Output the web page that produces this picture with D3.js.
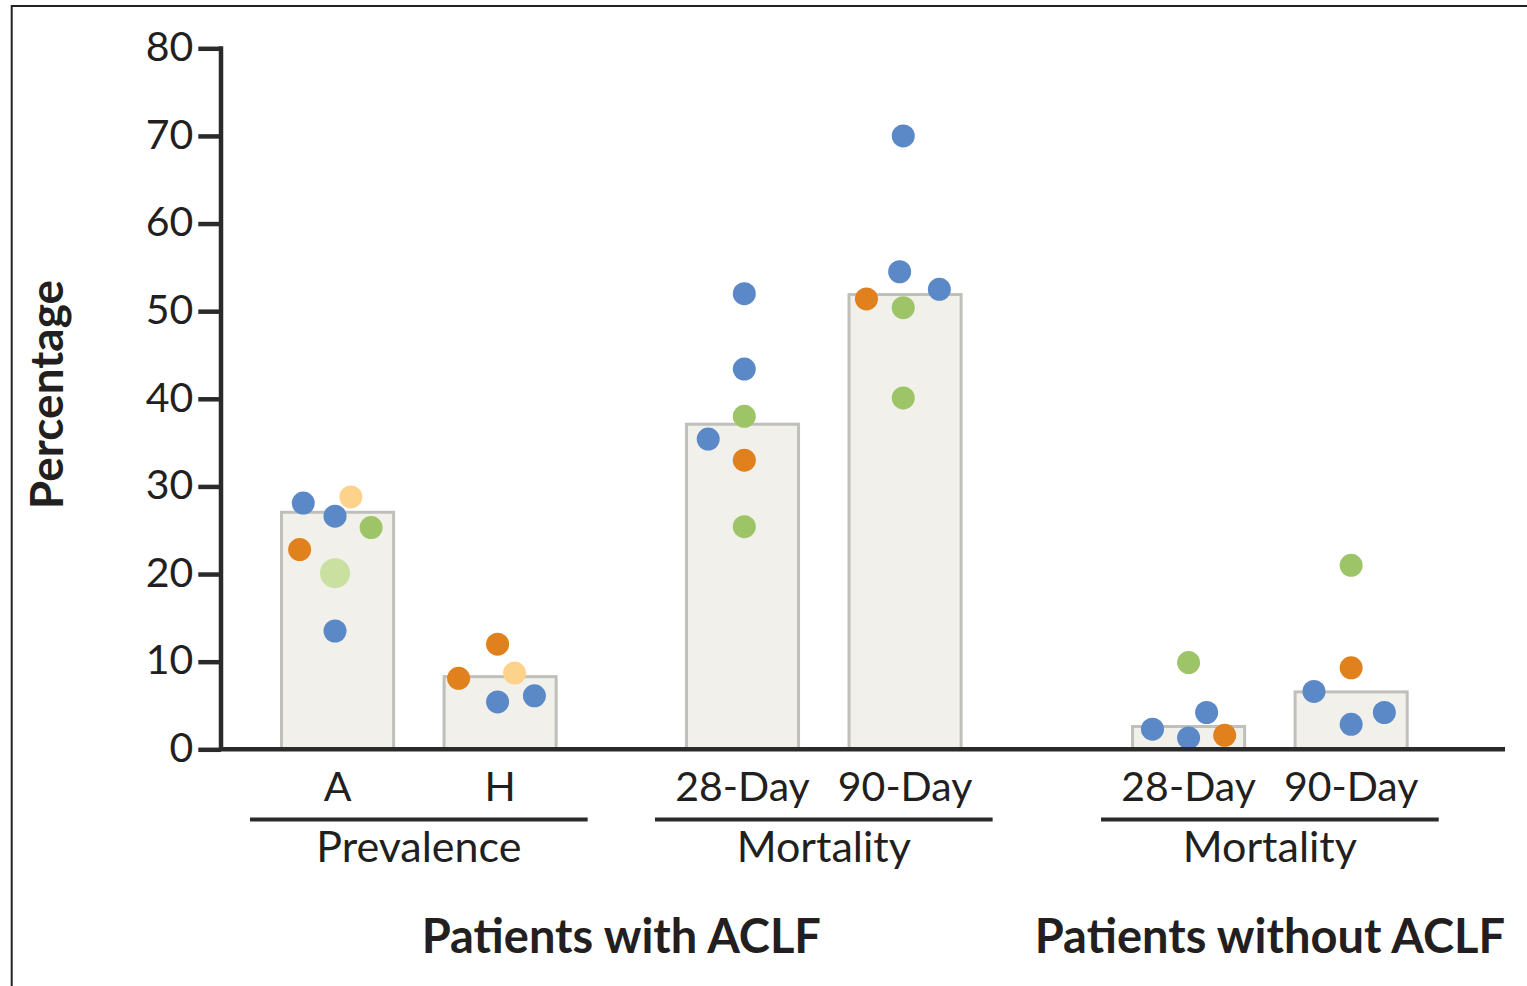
<!DOCTYPE html>
<html>
<head>
<meta charset="utf-8">
<script src="https://cdn.jsdelivr.net/npm/d3@7"></script>
<style>
  html, body { margin: 0; padding: 0; background: #fff; }
  svg { display: block; }
  text { font-family: Lato, "Open Sans", sans-serif; fill: #231f20; }
</style>
</head>
<body>
<svg id="chart" width="1527" height="986"></svg>
<script>
// ---------- data ----------
const categoryIds    = ["prevA", "prevH", "mort28", "mort90", "nmort28", "nmort90"];
const categoryLabels = ["A", "H", "28-Day", "90-Day", "28-Day", "90-Day"];
const categoryGroup  = [0, 0, 1, 1, 2, 2];
const groupLabels    = ["Prevalence", "Mortality", "Mortality"];
const groupPatient   = [0, 0, 1];   // patient-group index of each group
const patientLabels  = ["Patients with ACLF", "Patients without ACLF"];
const barValues      = [27.05, 8.29, 37.1, 51.9, 2.6, 6.55];
const yTicks         = [0, 10, 20, 30, 40, 50, 60, 70, 80];

// individual study points
const pointCategory = [
  "prevA","prevA","prevA","prevA","prevA","prevA","prevA",
  "prevH","prevH","prevH","prevH","prevH",
  "mort28","mort28","mort28","mort28","mort28","mort28",
  "mort90","mort90","mort90","mort90","mort90","mort90",
  "nmort28","nmort28","nmort28","nmort28","nmort28",
  "nmort90","nmort90","nmort90","nmort90","nmort90"
];
const pointValue = [
  28.1, 26.6, 28.8, 25.3, 22.8, 20.1, 13.5,
  8.1, 12.0, 8.7, 5.4, 6.1,
  52.0, 43.4, 38.0, 35.4, 33.0, 25.4,
  70.0, 54.5, 52.5, 51.4, 50.4, 40.1,
  9.9, 4.2, 2.3, 1.3, 1.6,
  21.0, 9.3, 6.6, 2.85, 4.2
];
const pointSeries = [
  "blue","blue","lightOrange","green","orange","lightGreen","blue",
  "orange","orange","lightOrange","blue","blue",
  "blue","blue","green","blue","orange","green",
  "blue","blue","blue","orange","green","green",
  "green","blue","blue","blue","orange",
  "green","orange","blue","blue","blue"
];
// horizontal slot of each point beside its bar centre (-1 left, 0 centre, 1 right)
const pointSlot = [
  -0.95, -0.07, 0.37, 0.93, -1.05, -0.07, -0.07,
  -1.15, -0.07, 0.4, -0.07, 0.95,
  0.05, 0.05, 0.05, -0.95, 0.05, 0.05,
  -0.05, -0.15, 0.95, -1.07, -0.05, -0.05,
  0, 0.5, -1, 0, 1,
  0, 0, -1.03, 0, 0.92
];

// ---------- styles ----------
const seriesColor = {
  blue: "#5b88c6", orange: "#e0811d", green: "#9dc467",
  lightOrange: "#fdd38b", lightGreen: "#c9e0a0"
};
const seriesRadius = { lightGreen: 15 };
const defaultRadius = 11.5;

// ---------- layout ----------
const svg = d3.select("#chart");
const groupGap = 0.491;     // extra space between groups (in bar steps)
const patientGap = 0.253;   // extra space between patient groups
const barWidthU = 0.708;    // bar width in steps
const dotStepU = 0.222;     // dot slot spacing in steps

const unitPos = categoryIds.map((id, i) => {
  const g = categoryGroup[i];
  return i + g * groupGap + groupPatient[g] * patientGap;
});
const posOf = Object.fromEntries(categoryIds.map((id, i) => [id, unitPos[i]]));

const x = d3.scaleLinear()
  .domain([0, d3.max(unitPos) + barWidthU])
  .range([280, 1408.7]);
const y = d3.scaleLinear().domain([0, 80]).range([749.3, 48.3]);

// frame (cropped)
svg.append("rect")
  .attr("x", 11.7).attr("y", 6).attr("width", 1600).attr("height", 1100)
  .attr("fill", "none").attr("stroke", "#222").attr("stroke-width", 2);

// bars
svg.append("g").selectAll("rect")
  .data(categoryIds)
  .join("rect")
  .attr("x", d => x(posOf[d]) + 1.5)
  .attr("width", x(barWidthU) - x(0) - 3)
  .attr("y", (d, i) => y(barValues[i]))
  .attr("height", (d, i) => y(0) - y(barValues[i]))
  .attr("fill", "#f1f0ea")
  .attr("stroke", "#bfbfbb")
  .attr("stroke-width", 3);

// points
const pts = pointValue.map((v, i) => ({
  v, cat: pointCategory[i], s: pointSeries[i], slot: pointSlot[i]
}));
svg.append("g").selectAll("circle")
  .data(pts)
  .join("circle")
  .attr("cx", d => x(posOf[d.cat] + barWidthU / 2 + d.slot * dotStepU))
  .attr("cy", d => y(d.v))
  .attr("r", d => seriesRadius[d.s] || defaultRadius)
  .attr("fill", d => seriesColor[d.s]);

// y axis
const yAxis = d3.axisLeft(y).tickValues(yTicks).tickSize(22.7).tickPadding(5).tickFormat(d3.format("d"));
const gy = svg.append("g").attr("transform", "translate(221,0)").call(yAxis);
gy.select(".domain").attr("stroke", "#2a2a2a").attr("stroke-width", 4.5)
  .attr("d", `M0,${y(80) - 2}V${y(0)}`);
gy.selectAll(".tick line").attr("stroke", "#2a2a2a").attr("stroke-width", 4.5);
gy.selectAll(".tick text")
  .attr("font-size", 41).attr("font-family", "Lato, sans-serif")
  .attr("fill", "#231f20").attr("dy", "0.3em");

// x axis baseline
svg.append("line")
  .attr("x1", 219).attr("x2", 1505)
  .attr("y1", y(0)).attr("y2", y(0))
  .attr("stroke", "#2a2a2a").attr("stroke-width", 4.5);

// category labels
svg.append("g").selectAll("text")
  .data(categoryIds)
  .join("text")
  .attr("x", d => x(posOf[d] + barWidthU / 2))
  .attr("y", 801)
  .attr("text-anchor", "middle")
  .attr("font-size", 41)
  .text((d, i) => categoryLabels[i]);

// group underlines + labels
const groupIdx = groupLabels.map((g, i) => i);
const groupExtent = gi => {
  const members = categoryIds.filter((d, i) => categoryGroup[i] === gi);
  return [x(posOf[members[0]]), x(posOf[members[members.length - 1]] + barWidthU)];
};
svg.append("g").selectAll("line")
  .data(groupIdx)
  .join("line")
  .attr("x1", gi => groupExtent(gi)[0] - 30)
  .attr("x2", gi => groupExtent(gi)[1] + 30)
  .attr("y1", 819.5).attr("y2", 819.5)
  .attr("stroke", "#2a2a2a").attr("stroke-width", 4);
svg.append("g").selectAll("text")
  .data(groupIdx)
  .join("text")
  .attr("x", gi => d3.mean(groupExtent(gi)))
  .attr("y", 862)
  .attr("text-anchor", "middle")
  .attr("font-size", 43)
  .text(gi => groupLabels[gi]);

// patient group titles
svg.append("g").selectAll("text")
  .data(patientLabels)
  .join("text")
  .attr("x", (d, pi) => {
    const gs = groupIdx.filter(g => groupPatient[g] === pi);
    return (groupExtent(gs[0])[0] + groupExtent(gs[gs.length - 1])[1]) / 2;
  })
  .attr("y", 953)
  .attr("text-anchor", "middle")
  .attr("font-size", 47)
  .attr("font-weight", "bold")
  .text(d => d);

// y title
svg.append("text")
  .attr("transform", "translate(63,394.5) rotate(-90)")
  .attr("text-anchor", "middle")
  .attr("font-size", 46)
  .attr("font-weight", "bold")
  .text("Percentage");
</script>
</body>
</html>
